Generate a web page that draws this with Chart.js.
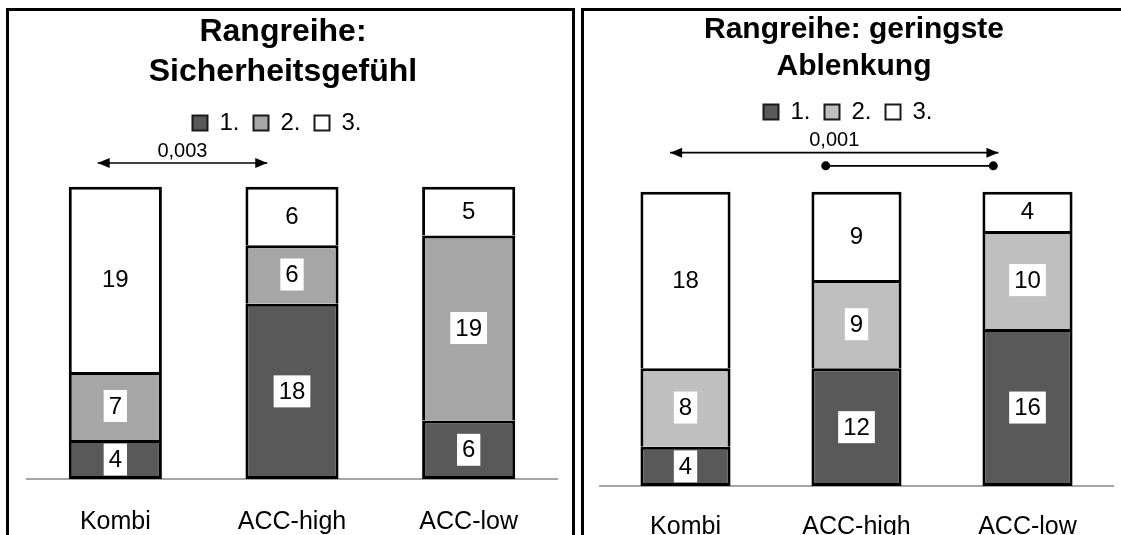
<!DOCTYPE html>
<html>
<head>
<meta charset="utf-8">
<script src="https://cdn.jsdelivr.net/npm/chart.js@4.4.1/dist/chart.umd.min.js"></script>
<style>
  html, body { margin: 0; padding: 0; background: #fff; overflow: hidden; width: 1121px; height: 535px; }
  .panel { position: absolute; top: 8px; border: 3px solid #000; }
  #panelLeft { left: 6px; width: 563px; height: 560px; }
  #panelRight { left: 581px; width: 540px; height: 560px; }
  canvas { display: block; }
</style>
</head>
<body>
<div class="panel" id="panelLeft"><canvas id="chartLeft" width="563" height="560"></canvas></div>
<div class="panel" id="panelRight"><canvas id="chartRight" width="540" height="560"></canvas></div>
<script>
const categories = ['Kombi', 'ACC-high', 'ACC-low'];
const rankLabels = ['1.', '2.', '3.'];

// Rangreihe: Sicherheitsgefühl
const safetyRank1 = [4, 18, 6];
const safetyRank2 = [7, 6, 19];
const safetyRank3 = [19, 6, 5];

// Rangreihe: geringste Ablenkung
const distractionRank1 = [4, 12, 16];
const distractionRank2 = [8, 9, 10];
const distractionRank3 = [18, 9, 4];

// significance marks (category units on x, values on y)
const safetyTests = [
  { from: -0.1, to: 0.86, y: 32.45, label: '0,003', style: 'arrow' }
];
const distractionTests = [
  { from: -0.09, to: 1.83, y: 34.0, label: '0,001', style: 'arrow' },
  { from: 0.82, to: 1.8, y: 32.65, label: '', style: 'dots' }
];

const FONT = '"Liberation Sans", Arial, sans-serif';
Chart.defaults.font.family = FONT;
Chart.defaults.color = '#000';

const valueLabels = {
  id: 'valueLabels',
  afterDatasetsDraw(chart) {
    const ctx = chart.ctx;
    ctx.save();
    ctx.font = '24px ' + FONT;
    ctx.textAlign = 'center';
    ctx.textBaseline = 'middle';
    chart.data.datasets.forEach((ds, i) => {
      chart.getDatasetMeta(i).data.forEach((bar, j) => {
        const text = String(ds.data[j]);
        const cy = (bar.y + bar.base) / 2;
        const w = ctx.measureText(text).width + 10;
        ctx.fillStyle = '#fff';
        ctx.fillRect(bar.x - w / 2, cy - 16, w, 32);
        ctx.fillStyle = '#000';
        ctx.fillText(text, bar.x, cy + 1);
      });
    });
    ctx.restore();
  }
};

const brackets = {
  id: 'brackets',
  afterDraw(chart, args, opts) {
    const { ctx, scales: { x, y } } = chart;
    ctx.save();
    ctx.strokeStyle = '#000';
    ctx.fillStyle = '#000';
    ctx.lineWidth = 1.6;
    (opts.items || []).forEach(b => {
      const x1 = x.getPixelForValue(b.from);
      const x2 = x.getPixelForValue(b.to);
      const py = y.getPixelForValue(b.y);
      ctx.beginPath();
      ctx.moveTo(x1, py);
      ctx.lineTo(x2, py);
      ctx.stroke();
      if (b.style === 'arrow') {
        [[x1, 1], [x2, -1]].forEach(([tx, dir]) => {
          ctx.beginPath();
          ctx.moveTo(tx, py);
          ctx.lineTo(tx + dir * 12, py - 5);
          ctx.lineTo(tx + dir * 12, py + 5);
          ctx.closePath();
          ctx.fill();
        });
      } else {
        [x1, x2].forEach(tx => {
          ctx.beginPath();
          ctx.arc(tx, py, 4.5, 0, Math.PI * 2);
          ctx.fill();
        });
      }
      if (b.label) {
        ctx.font = '20px ' + FONT;
        ctx.textAlign = 'center';
        ctx.textBaseline = 'middle';
        ctx.fillText(b.label, (x1 + x2) / 2, py - 12);
      }
    });
    ctx.restore();
  }
};

function makeChart(id, cfg) {
  const colors = ['#595959', cfg.midColor, '#ffffff'];
  const series = [cfg.rank1, cfg.rank2, cfg.rank3];
  return new Chart(document.getElementById(id), {
    type: 'bar',
    data: {
      labels: categories,
      datasets: series.map((d, i) => ({
        label: rankLabels[i],
        data: d,
        backgroundColor: colors[i],
        borderColor: '#000',
        borderWidth: 3,
        borderSkipped: i === 0 ? false : 'start',
        inflateAmount: 0,
        barPercentage: 0.527,
        categoryPercentage: 1
      }))
    },
    options: {
      responsive: false,
      animation: false,
      devicePixelRatio: 1,
      layout: { padding: cfg.padding },
      plugins: {
        title: {
          display: true,
          text: cfg.title,
          font: { size: cfg.titleSize, weight: 'bold', lineHeight: cfg.titleLine },
          padding: cfg.titlePad,
          color: '#000'
        },
        legend: {
          display: true,
          labels: {
            boxWidth: 15,
            boxHeight: 15,
            padding: 14,
            font: { size: 24 },
            color: '#000',
            generateLabels(chart) {
              const items = Chart.defaults.plugins.legend.labels.generateLabels(chart)
                .map(l => Object.assign(l, { lineWidth: 2, strokeStyle: '#1a1a1a' }));
              // trailing space keeps the row centred like the original
              items[items.length - 1].text += '\u2002';
              return items;
            }
          }
        },
        tooltip: { enabled: false },
        brackets: { items: cfg.tests }
      },
      scales: {
        x: {
          stacked: true,
          grid: { display: false, drawTicks: false },
          border: { display: true, color: '#a6a6a6', width: 2 },
          ticks: { font: { size: 25 }, color: '#000', padding: cfg.tickPad }
        },
        y: {
          stacked: true,
          min: 0,
          max: cfg.yMax,
          grid: { display: false },
          border: { display: false },
          ticks: { display: false },
          afterFit(scale) { scale.width = cfg.yWidth; }
        }
      }
    },
    plugins: [valueLabels, brackets]
  });
}

makeChart('chartLeft', {
  title: ['Rangreihe:', 'Sicherheitsgefühl'],
  titleSize: 32, titleLine: 1.25, titlePad: { top: 1, bottom: 5 },
  rank1: safetyRank1, rank2: safetyRank2, rank3: safetyRank3,
  midColor: '#a6a6a6',
  tests: safetyTests,
  yMax: 34.3, yWidth: 18, tickPad: 28,
  padding: { left: 0, right: 15, top: 0, bottom: 6 }
});

makeChart('chartRight', {
  title: ['Rangreihe: geringste', 'Ablenkung'],
  titleSize: 30, titleLine: 1.2333, titlePad: { top: 0, bottom: 1 },
  rank1: distractionRank1, rank2: distractionRank2, rank3: distractionRank3,
  midColor: '#bfbfbf',
  tests: distractionTests,
  yMax: 35.9, yWidth: 5, tickPad: 26,
  padding: { left: 11, right: 11, top: 0, bottom: 3 }
});
</script>
</body>
</html>
